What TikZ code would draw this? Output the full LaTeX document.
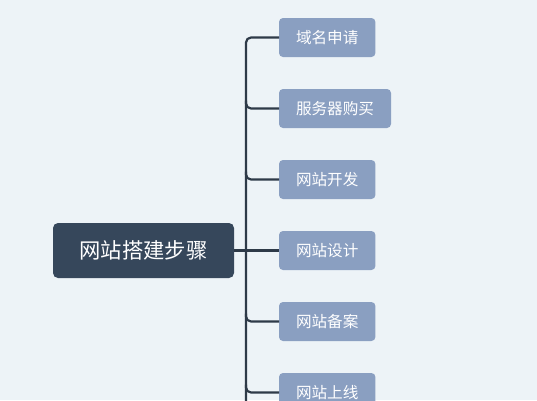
\documentclass[tikz,border=0pt]{standalone}
\usepackage{fontspec}
\newfontfamily\cjk{Noto Sans CJK SC}
\usetikzlibrary{positioning,calc}
\definecolor{pageBg}{HTML}{EDF3F7}
\definecolor{rootDark}{HTML}{36475B}
\definecolor{stepBlue}{HTML}{8A9FC1}
\definecolor{lineDark}{HTML}{2E3A48}
\newcommand{\StepGap}{32pt}

\begin{document}
\begin{tikzpicture}[x=1pt,y=-1pt,
		rootbox/.style={fill=rootDark, rounded corners=5pt, text=white, font=\cjk\fontsize{21.3}{24}\selectfont, minimum width=181pt, minimum height=55pt, inner sep=0pt, outer sep=0pt},
		stepbox/.style={fill=stepBlue, rounded corners=4pt, text=white, font=\cjk\fontsize{15.6}{18}\selectfont, minimum height=39pt, inner xsep=17pt, inner ysep=0pt, outer sep=0pt},
		branch/.style={draw=lineDark, line width=2.2pt, rounded corners=5pt}]
		\fill[pageBg] (0,0) rectangle (537,400);
		\useasboundingbox (0,0) rectangle (537,400);

		\node[rootbox] (root) at (143.5,250.5) {网站搭建步骤};
		\node[stepbox, anchor=west] (s1) at (279,37.5) {域名申请};
		\node[stepbox, below=\StepGap of s1.south west, anchor=north west] (s2) {服务器购买};
		\node[stepbox, below=\StepGap of s2.south west, anchor=north west] (s3) {网站开发};
		\node[stepbox, below=\StepGap of s3.south west, anchor=north west] (s4) {网站设计};
		\node[stepbox, below=\StepGap of s4.south west, anchor=north west] (s5) {网站备案};
		\node[stepbox, below=\StepGap of s5.south west, anchor=north west] (s6) {网站上线};

		\coordinate (hub) at (246,250.5);
		\coordinate (trunk end) at (246,402);

		\draw[branch] (trunk end) |- (s1.west);
		\draw[branch] (root.east) -- (root.east -| s4.west);
		\foreach \i in {2,3,5,6}
			\draw[branch] ($(hub |- s\i.west)+(0,-8)$) |- (s\i.west);
	\end{tikzpicture}
\end{document}
